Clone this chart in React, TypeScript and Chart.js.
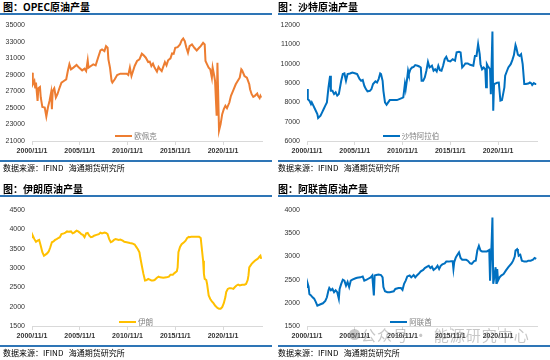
import React, { useEffect, useRef } from "react";
import { Chart, registerables } from "chart.js";

Chart.register(...registerables);

// x positions are months counted from 2000/11
const tickMonths = [0, 60, 120, 180, 240];
const tickLabels = ["2000/11/1", "2005/11/1", "2010/11/1", "2015/11/1", "2020/11/1"];
const axisMaxMonth = 289;

const opecMonths = [
  0, 1, 3, 4, 5, 7, 8, 10, 11, 13,
  16, 18, 20, 22, 24, 25, 26, 28, 30, 32,
  34, 37, 40, 43, 45, 47, 49, 52, 56, 59,
  63, 66, 68, 70, 71, 74, 77, 80, 83, 86,
  88, 91, 93, 95, 96, 98, 100, 101, 104, 107,
  111, 115, 119, 121, 123, 125, 127, 129, 132, 135,
  138, 140, 143, 146, 148, 150, 152, 154, 157, 159,
  161, 163, 165, 167, 169, 171, 174, 176, 178, 180,
  183, 186, 188, 190, 192, 194, 196, 198, 201, 204,
  207, 210, 212, 215, 217, 218, 220, 222, 224, 226,
  227, 229, 230, 232, 233, 235, 237, 239, 241, 243,
  245, 248, 250, 253, 256, 259, 261, 263, 264, 267,
  270, 273, 274, 276, 278, 280, 283, 284, 286, 287,
  288,
];
const opecValues = [
  29260, 27860, 28260, 27460, 28060, 25850, 27380, 27540, 26260, 25130,
  25050, 23970, 25050, 25850, 26860, 24850, 27060, 27380, 26260, 26660,
  27260, 28060, 28260, 28460, 29460, 30270, 29670, 29870, 30190, 29870,
  29540, 29750, 29460, 30750, 29870, 30070, 30270, 30150, 31070, 31950,
  32070, 31870, 32470, 32270, 30870, 29870, 28260, 28060, 28460, 28980,
  29140, 29140, 29140, 28980, 29870, 28860, 29460, 30070, 30670, 30870,
  31550, 31390, 31070, 30550, 30590, 30070, 30350, 29870, 29380, 29950,
  29670, 29460, 29990, 30550, 30150, 30750, 30990, 31590, 31550, 32270,
  32350, 32670, 33150, 33400, 33070, 32270, 31670, 32470, 32670, 32270,
  31950, 32270, 32470, 32870, 32670, 30670, 30270, 29870, 29670, 28660,
  29870, 28860, 28260, 24050, 30470, 22250, 23050, 24250, 24850, 25250,
  24970, 25650, 26460, 27140, 27860, 28340, 28660, 29670, 29550, 28860,
  28660, 27860, 27260, 26660, 26340, 26460, 26740, 26460, 26180, 26460,
  26250,
];

const saudiMonths = [
  0, 1, 3, 5, 6, 8, 10, 13, 14, 17,
  19, 21, 23, 25, 27, 29, 30, 32, 34, 36,
  38, 40, 43, 45, 47, 49, 51, 54, 57, 61,
  63, 66, 68, 70, 72, 74, 76, 79, 81, 83,
  86, 88, 90, 92, 93, 95, 96, 98, 100, 102,
  104, 109, 113, 116, 119, 121, 123, 124, 126, 127,
  128, 130, 132, 134, 136, 139, 141, 143, 144, 146,
  148, 150, 152, 154, 157, 159, 161, 163, 165, 167,
  169, 171, 173, 175, 177, 180, 183, 186, 188, 191,
  193, 195, 197, 199, 202, 205, 209, 211, 213, 215,
  217, 218, 220, 222, 224, 225, 226, 227, 230, 231,
  233, 234, 235, 237, 239, 241, 243, 245, 248, 249,
  251, 253, 256, 258, 260, 262, 263, 265, 267, 269,
  271, 273, 275, 278, 280, 282, 283, 285, 287, 288,
];
const saudiValues = [
  8690, 8170, 8090, 7910, 8000, 7830, 7660, 7400, 7190, 7310,
  7480, 7660, 7830, 8000, 8780, 9380, 8600, 8600, 8430, 8520,
  8350, 8430, 9120, 9470, 9500, 9120, 9470, 9500, 9550, 9500,
  9470, 9210, 9120, 9160, 8860, 8690, 8570, 8600, 8690, 8950,
  9090, 9030, 9210, 9500, 9470, 9120, 8600, 8000, 7880, 8000,
  8120, 8120, 8120, 8170, 8220, 8260, 8950, 8690, 9290, 9640,
  9470, 9720, 9810, 9840, 9930, 9900, 9860, 9810, 9120, 9120,
  9290, 9640, 10100, 9810, 9900, 9640, 9720, 9600, 9900, 9670,
  9640, 9900, 10240, 10360, 10160, 10120, 10240, 10160, 10590, 10620,
  10590, 9810, 9900, 10020, 10020, 9950, 9900, 10410, 10410, 11020,
  10500, 9980, 9720, 9810, 9720, 8780, 9980, 9900, 9720, 8430,
  11670, 7570, 8950, 8980, 9020, 9030, 8090, 8120, 8780, 9380,
  9600, 9810, 9980, 10190, 10450, 10970, 10840, 10470, 10410, 10500,
  9980, 8950, 8950, 8980, 9030, 8980, 8900, 9000, 8950, 8950,
];

const iranMonths = [
  0, 1, 3, 5, 7, 9, 11, 13, 15, 17,
  19, 21, 23, 25, 27, 29, 31, 33, 35, 37,
  40, 42, 44, 46, 49, 51, 53, 56, 58, 60,
  62, 64, 66, 68, 70, 72, 74, 76, 78, 81,
  84, 86, 88, 91, 93, 95, 97, 99, 101, 103,
  105, 107, 109, 111, 114, 116, 119, 123, 126, 129,
  131, 133, 135, 136, 138, 140, 142, 144, 146, 148,
  150, 152, 154, 157, 159, 161, 165, 169, 172, 174,
  177, 179, 182, 183, 184, 186, 188, 191, 193, 195,
  197, 198, 200, 203, 207, 210, 212, 213, 215, 216,
  217, 219, 220, 222, 224, 226, 228, 230, 233, 235,
  237, 239, 241, 243, 244, 246, 248, 250, 253, 255,
  257, 259, 261, 264, 267, 269, 271, 272, 273, 276,
  278, 280, 282, 284, 286, 287, 288,
];
const iranValues = [
  3800, 3840, 3750, 3680, 3710, 3730, 3580, 3410, 3320, 3350,
  3380, 3430, 3540, 3670, 3690, 3730, 3750, 3780, 3800, 3880,
  3900, 3920, 3950, 3940, 3950, 3900, 3920, 3970, 3950, 3920,
  3880, 3860, 3800, 3900, 3910, 3840, 3800, 3810, 3840, 3860,
  3880, 3920, 3900, 3920, 3910, 3880, 3750, 3670, 3690, 3730,
  3750, 3740, 3730, 3740, 3710, 3680, 3670, 3650, 3640, 3610,
  3550, 3490, 3410, 3280, 3060, 2850, 2680, 2690, 2720, 2700,
  2680, 2680, 2690, 2750, 2780, 2760, 2750, 2760, 2780, 2830,
  2830, 2870, 2920, 3020, 3410, 3550, 3620, 3670, 3710, 3780,
  3810, 3800, 3810, 3810, 3810, 3810, 3780, 3580, 3190, 2850,
  2720, 2690, 2590, 2290, 2200, 2140, 2090, 2030, 1970, 1950,
  1950, 1990, 2090, 2250, 2380, 2460, 2480, 2480, 2460, 2510,
  2550, 2570, 2550, 2570, 2570, 2590, 2690, 2810, 3020, 3110,
  3150, 3190, 3220, 3250, 3300, 3320, 3240,
];

const uaeMonths = [
  0, 1, 2, 3, 5, 7, 9, 11, 13, 17,
  20, 23, 25, 27, 28, 30, 32, 34, 36, 38,
  40, 41, 43, 45, 47, 49, 51, 53, 55, 57,
  61, 63, 67, 70, 72, 75, 77, 80, 82, 84,
  85, 87, 90, 93, 95, 96, 98, 101, 104, 109,
  111, 115, 118, 120, 122, 124, 126, 129, 131, 134,
  136, 138, 140, 143, 146, 148, 151, 153, 155, 157,
  159, 162, 164, 166, 168, 170, 173, 175, 178, 181,
  183, 184, 185, 187, 189, 191, 193, 195, 197, 200,
  202, 205, 207, 210, 212, 214, 216, 218, 220, 223,
  226, 229, 230, 232, 233, 234, 235, 237, 238, 239,
  240, 242, 244, 247, 250, 253, 257, 259, 261, 262,
  264, 265, 266, 268, 270, 273, 276, 278, 281, 284,
  286, 288,
];
const uaeValues = [
  2340, 2410, 2350, 2190, 2160, 2120, 2090, 2020, 1940, 1970,
  1990, 2040, 2120, 2270, 2320, 2270, 2300, 2230, 2270, 2230,
  2090, 2300, 2410, 2500, 2480, 2370, 2450, 2340, 2480, 2500,
  2530, 2540, 2550, 2570, 2480, 2500, 2520, 2550, 2590, 2160,
  2590, 2600, 2610, 2600, 2550, 2340, 2250, 2230, 2230, 2250,
  2300, 2320, 2320, 2280, 2410, 2480, 2570, 2590, 2550, 2600,
  2550, 2590, 2620, 2680, 2710, 2750, 2780, 2800, 2750, 2780,
  2710, 2750, 2800, 2730, 2800, 2830, 2850, 2890, 2890, 2900,
  2900, 2730, 2880, 2980, 3040, 3090, 2970, 2930, 2930, 2930,
  2910, 2850, 2840, 2900, 2910, 3130, 3230, 3130, 3110, 3110,
  3110, 3140, 2480, 3310, 3840, 2410, 2520, 2770, 2410, 2730,
  2480, 2550, 2590, 2620, 2700, 2770, 2850, 2910, 3000, 3130,
  3160, 3110, 3020, 3040, 2910, 2890, 2890, 2910, 2910, 2930,
  2970, 2950,
];

const RULE_BLUE = "#2E75B6";
const CJK = "'Noto Sans CJK SC', 'Liberation Sans', sans-serif";
const NUM = "'Liberation Sans', 'DejaVu Sans', sans-serif";

type ChartProps = {
  months: number[];
  values: number[];
  color: string;
  yMin: number;
  yMax: number;
  yStep: number;
  width: number;
  height: number;
};

function LineChart({ months, values, color, yMin, yMax, yStep, width, height }: ChartProps) {
  const ref = useRef<HTMLCanvasElement>(null);
  useEffect(() => {
    const n = Math.min(months.length, values.length);
    const points = [];
    for (let i = 0; i < n; i++) points.push({ x: months[i], y: values[i] });
    const chart = new Chart(ref.current as HTMLCanvasElement, {
      type: "line",
      data: {
        datasets: [
          {
            data: points,
            borderColor: color,
            backgroundColor: color,
            borderWidth: 2,
            pointRadius: 0,
            tension: 0,
            fill: false,
          },
        ],
      },
      options: {
        animation: false,
        responsive: false,
        maintainAspectRatio: false,
        layout: { padding: { top: 10, right: 10, bottom: 0, left: 0 } },
        plugins: { legend: { display: false }, tooltip: { enabled: false } },
        scales: {
          x: {
            type: "linear",
            min: 0,
            max: axisMaxMonth,
            afterBuildTicks: (s: any) => {
              s.ticks = tickMonths.map((v) => ({ value: v }));
            },
            afterFit: (s: any) => {
              s.height = 19;
            },
            grid: { drawOnChartArea: false, drawTicks: true, tickLength: 4, color: "#d9d9d9" },
            border: { display: true, color: "#d9d9d9", width: 1 },
            ticks: {
              autoSkip: false,
              maxRotation: 0,
              padding: 2,
              color: "#333333",
              font: { family: NUM, size: 7, weight: "bold" },
              callback: (v: any) => {
                const i = tickMonths.indexOf(Number(v));
                return i >= 0 ? tickLabels[i] : "";
              },
            },
          },
          y: {
            type: "linear",
            min: yMin,
            max: yMax,
            afterFit: (s: any) => {
              s.width = 32;
            },
            grid: { display: false, drawTicks: false },
            border: { display: false },
            ticks: {
              stepSize: yStep,
              padding: 7,
              color: "#333333",
              font: { family: NUM, size: 7 },
              callback: (v: any) => String(v),
            },
          },
        },
      },
    });
    return () => chart.destroy();
  }, []);
  return (
    <canvas
      ref={ref}
      width={width}
      height={height}
      style={{ width, height, display: "block" }}
    />
  );
}

type Layout = {
  titleTop: number;
  ruleTop: number;
  canvasTop: number;
  canvasHeight: number;
  legendCenter: number;
  bottomRuleTop: number;
  sourceTop: number;
};

const topRow: Layout = {
  titleTop: 1,
  ruleTop: 13,
  canvasTop: 14,
  canvasHeight: 146,
  legendCenter: 136,
  bottomRuleTop: 160,
  sourceTop: 163,
};
const bottomRow: Layout = {
  titleTop: 183,
  ruleTop: 195,
  canvasTop: 199,
  canvasHeight: 146,
  legendCenter: 322,
  bottomRuleTop: 345,
  sourceTop: 348,
};

type PanelProps = {
  x: number;
  ruleLeft: number;
  ruleWidth: number;
  layout: Layout;
  title: string;
  legend: string;
  color: string;
  months: number[];
  values: number[];
  yMin: number;
  yMax: number;
  yStep: number;
};

function Panel(p: PanelProps) {
  const L = p.layout;
  return (
    <>
      <div
        style={{
          position: "absolute",
          left: p.x + 3,
          top: L.titleTop,
          fontFamily: CJK,
          fontSize: 10,
          lineHeight: "12px",
          fontWeight: 700,
          color: "#000",
          whiteSpace: "nowrap",
        }}
      >
        {p.title}
      </div>
      <div
        style={{
          position: "absolute",
          left: p.x,
          top: L.canvasTop,
          width: 272,
          height: L.canvasHeight,
        }}
      >
        <LineChart
          months={p.months}
          values={p.values}
          color={p.color}
          yMin={p.yMin}
          yMax={p.yMax}
          yStep={p.yStep}
          width={272}
          height={L.canvasHeight}
        />
      </div>
      <div
        style={{
          position: "absolute",
          left: p.ruleLeft,
          top: L.ruleTop,
          width: p.ruleWidth,
          height: 2,
          background: RULE_BLUE,
        }}
      />
      <div
        style={{
          position: "absolute",
          left: p.x + 136 - 60,
          width: 120,
          top: L.legendCenter - 6,
          height: 12,
          display: "flex",
          alignItems: "center",
          justifyContent: "center",
          gap: 2,
        }}
      >
        <span style={{ display: "inline-block", width: 17, height: 2.5, background: p.color }} />
        <span
          style={{
            fontFamily: CJK,
            fontSize: 7.5,
            lineHeight: "12px",
            color: "#808080",
            whiteSpace: "nowrap",
          }}
        >
          {p.legend}
        </span>
      </div>
      <div
        style={{
          position: "absolute",
          left: p.ruleLeft,
          top: L.bottomRuleTop,
          width: p.ruleWidth,
          height: 2,
          background: RULE_BLUE,
        }}
      />
      <div
        style={{
          position: "absolute",
          left: p.x + 3,
          top: L.sourceTop,
          fontFamily: CJK,
          fontSize: 8,
          lineHeight: "10px",
          color: "#000",
          whiteSpace: "pre",
        }}
      >
        {"数据来源：IFIND   海通期货研究所"}
      </div>
    </>
  );
}

export default function App() {
  return (
    <div
      style={{
        position: "absolute",
        left: 0,
        top: 0,
        width: 550,
        height: 360,
        background: "#ffffff",
        overflow: "hidden",
      }}
    >
      <Panel
        x={0}
        ruleLeft={0}
        ruleWidth={272}
        layout={topRow}
        title="图：OPEC原油产量"
        legend="欧佩克"
        color="#ED7D31"
        months={opecMonths}
        values={opecValues}
        yMin={21000}
        yMax={35000}
        yStep={2000}
      />
      <Panel
        x={275}
        ruleLeft={278}
        ruleWidth={272}
        layout={topRow}
        title="图：沙特原油产量"
        legend="沙特阿拉伯"
        color="#0070C0"
        months={saudiMonths}
        values={saudiValues}
        yMin={6000}
        yMax={12000}
        yStep={1000}
      />
      <Panel
        x={0}
        ruleLeft={0}
        ruleWidth={272}
        layout={bottomRow}
        title="图：伊朗原油产量"
        legend="伊朗"
        color="#FFC000"
        months={iranMonths}
        values={iranValues}
        yMin={1500}
        yMax={4500}
        yStep={500}
      />
      <Panel
        x={275}
        ruleLeft={278}
        ruleWidth={272}
        layout={bottomRow}
        title="图：阿联酋原油产量"
        legend="阿联酋"
        color="#0070C0"
        months={uaeMonths}
        values={uaeValues}
        yMin={1500}
        yMax={4000}
        yStep={500}
      />
      <div
        style={{
          position: "absolute",
          left: 349,
          top: 329,
          width: 11,
          height: 11,
          borderRadius: 6,
          background: "rgba(130,130,130,0.45)",
        }}
      />
      <div
        style={{
          position: "absolute",
          left: 361,
          top: 325,
          fontFamily: CJK,
          fontSize: 15,
          lineHeight: "20px",
          letterSpacing: 1,
          color: "rgba(130,130,130,0.45)",
          whiteSpace: "pre",
        }}
      >
        {"公众号 · 能源研究中心"}
      </div>
    </div>
  );
}
